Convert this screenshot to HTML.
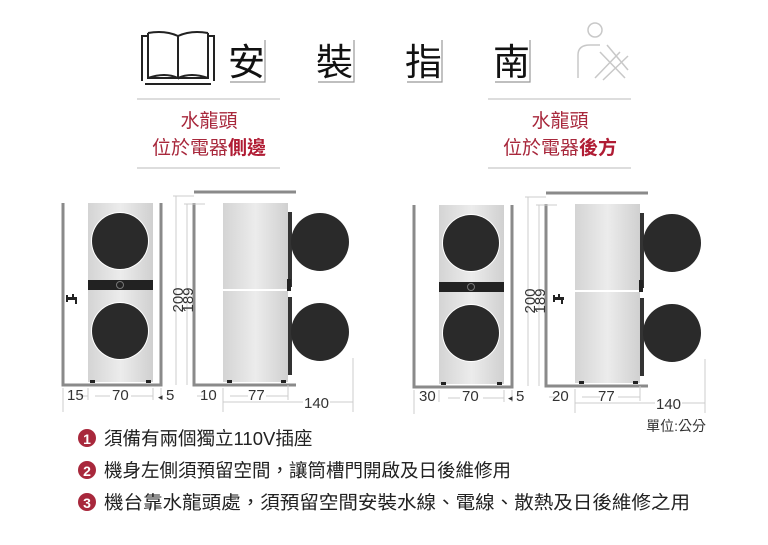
<!DOCTYPE html>
<html><head><meta charset="utf-8"><style>
html,body{margin:0;padding:0;background:#fff;}
svg{display:block;font-family:"Liberation Sans","Noto Sans CJK TC",sans-serif;}
</style></head><body>
<svg width="768" height="545" viewBox="0 0 768 545" xmlns="http://www.w3.org/2000/svg">
<defs>
<linearGradient id="body" x1="0" x2="1"><stop offset="0" stop-color="#d4d4d4"/><stop offset="0.5" stop-color="#ececec"/><stop offset="1" stop-color="#d0d0d0"/></linearGradient>
<g id="front">
  <rect x="88" y="203" width="65" height="179" fill="url(#body)"/>
  <circle cx="120" cy="241" r="29" fill="#fff"/>
  <circle cx="120" cy="241" r="28" fill="#2a2a2a"/>
  <rect x="88" y="280" width="65" height="10" fill="#222"/>
  <circle cx="120" cy="285" r="3.5" fill="none" stroke="#777" stroke-width="1"/>
  <circle cx="120" cy="331" r="29" fill="#fff"/>
  <circle cx="120" cy="331" r="28" fill="#2a2a2a"/>
  <rect x="90" y="380" width="5" height="3" fill="#222"/><rect x="146" y="380" width="5" height="3" fill="#222"/>
  <path d="M63 203V385H161V203" fill="none" stroke="#8a8a8a" stroke-width="3"/>
</g>
<g id="side">
  <rect x="223" y="203" width="65" height="86" fill="url(#body)"/>
  <rect x="223" y="291" width="65" height="91" fill="url(#body)"/>
  <rect x="288" y="212" width="4" height="75" fill="#333"/>
  <rect x="288" y="297" width="4" height="78" fill="#333"/>
  <rect x="287" y="279" width="4" height="12" fill="#222"/>
  <circle cx="320" cy="242" r="29" fill="#2a2a2a"/>
  <circle cx="320" cy="332" r="29" fill="#2a2a2a"/>
  <rect x="227" y="380" width="5" height="3" fill="#222"/><rect x="281" y="380" width="5" height="3" fill="#222"/>
  <path d="M194 203V385H296" fill="none" stroke="#8a8a8a" stroke-width="3"/>
  <line x1="194" y1="192" x2="296" y2="192" stroke="#8a8a8a" stroke-width="3"/>
  <path d="M176 196V385M173 196H194M187 204V385M184 204H205" stroke="#ccc" stroke-width="1" fill="none"/>
  <text transform="translate(183,300) rotate(-90)" font-size="15" fill="#333" text-anchor="middle">200</text>
  <text transform="translate(193,300) rotate(-90)" font-size="15" fill="#333" text-anchor="middle">189</text>
  <path d="M223 388V412M288 385V400M353 358V412M223 402H303M330 402H353M197 396H204M230 396H248M266 396H288" stroke="#ccc" fill="none"/>
</g>
</defs>

<!-- title -->
<g fill="none" stroke="#222" stroke-width="2">
  <path d="M142 81V36H148M214 81V36H208M148 33V78H208V33M148 33Q165 30 178 36V78Q165 72 148 78M208 33Q191 30 178 36M178 78Q191 72 208 78M145 84H211"/>
</g>
<g font-size="37" fill="#111">
  <text x="228" y="75">安</text><text x="316" y="75">裝</text><text x="405" y="75">指</text><text x="493" y="75">南</text>
</g>
<g stroke="#999" stroke-width="1.2" fill="none">
  <path d="M265 40V82H230M354 40V82H318M442 40V82H407M530 40V82H495"/>
</g>
<g fill="none" stroke="#c8c8c8" stroke-width="1.5">
  <circle cx="595" cy="30" r="7"/>
  <path d="M578 78V55Q578 45 590 45H600M600 52L625 78M607 45L628 70M620 52L595 78M628 56L603 80"/>
</g>

<!-- subtitles -->
<path d="M137 99H280M137 168H280M488 99H631M488 168H631" stroke="#ddd" stroke-width="2"/>
<g font-size="19" fill="#a8283c" text-anchor="middle">
  <text x="209" y="127">水龍頭</text>
  <text x="209" y="154">位於電器<tspan font-weight="bold" fill="#b01c34">側邊</tspan></text>
  <text x="560" y="127">水龍頭</text>
  <text x="560" y="154">位於電器<tspan font-weight="bold" fill="#b01c34">後方</tspan></text>
</g>

<!-- left diagram -->
<use href="#front"/>
<use href="#side"/>
<g fill="#222"><rect x="68" y="297" width="9" height="3"/><rect x="72" y="294" width="2" height="3"/><rect x="75" y="299" width="2" height="5"/><rect x="66" y="295" width="2" height="7"/></g>
<path d="M63 388V412M88 388V400M153 388V400M161 388V400M80 396H88M95 396H110M131 396H153" stroke="#ccc" fill="none"/>
<g font-size="15" fill="#333">
  <text x="67" y="400">15</text><text x="112" y="400">70</text><text x="158" y="400" font-size="9">◂</text><text x="166" y="400">5</text>
  <text x="200" y="400">10</text><text x="248" y="400">77</text><text x="304" y="408">140</text>
</g>

<!-- right diagram -->
<g transform="translate(351,0)"><use href="#front" transform="translate(0,2)"/></g>
<g transform="translate(352,0)"><use href="#side" transform="translate(0,1)"/></g>
<g fill="#222"><rect x="555" y="297" width="9" height="3"/><rect x="558" y="294" width="2" height="3"/><rect x="561" y="299" width="2" height="5"/><rect x="553" y="295" width="2" height="7"/></g>
<path d="M414 390V414M439 390V402M504 390V402M512 390V402M448 398H460M483 398H504" stroke="#ccc" fill="none"/>
<g font-size="15" fill="#333">
  <text x="419" y="401">30</text><text x="462" y="401">70</text><text x="508" y="401" font-size="9">◂</text><text x="516" y="401">5</text>
  <text x="552" y="401">20</text><text x="598" y="401">77</text><text x="656" y="409">140</text>
</g>
<text x="706" y="431" font-size="14" fill="#333" text-anchor="end">單位:公分</text>

<!-- notes -->
<g font-size="17" fill="#fff" font-weight="bold" text-anchor="middle">
  <circle cx="87" cy="438" r="9" fill="#a8283c"/><text x="87" y="444" font-size="14">1</text>
  <circle cx="87" cy="470" r="9" fill="#a8283c"/><text x="87" y="476" font-size="14">2</text>
  <circle cx="87" cy="502" r="9" fill="#a8283c"/><text x="87" y="508" font-size="14">3</text>
</g>
<g font-size="18.5" fill="#222">
  <text x="104" y="445">須備有兩個獨立110V插座</text>
  <text x="104" y="477">機身左側須預留空間，讓筒槽門開啟及日後維修用</text>
  <text x="104" y="509" textLength="586" lengthAdjust="spacingAndGlyphs">機台靠水龍頭處，須預留空間安裝水線、電線、散熱及日後維修之用</text>
</g>
</svg>
</body></html>
